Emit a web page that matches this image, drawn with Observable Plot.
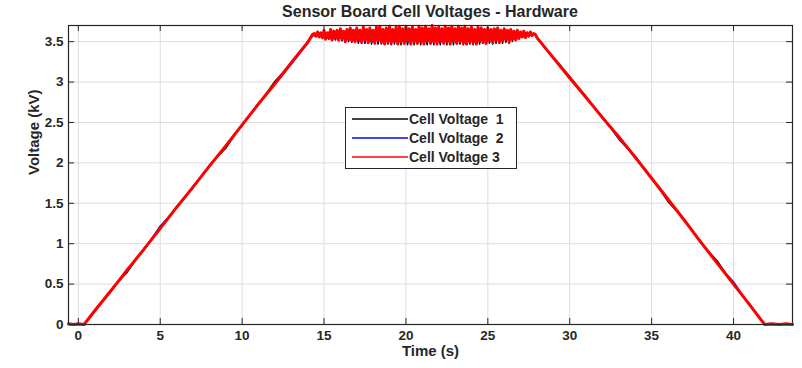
<!DOCTYPE html>
<html>
<head>
<meta charset="utf-8">
<script src="https://cdn.jsdelivr.net/npm/d3@7"></script>
<script src="https://cdn.jsdelivr.net/npm/@observablehq/plot@0.6"></script>
<style>
  html, body { margin: 0; padding: 0; background: #fff; }
  #wrap { position: relative; width: 802px; height: 368px; font-family: "Liberation Sans", Arial, sans-serif; color: #262626; }
  #title { position: absolute; left: 68px; top: 2px; width: 724px; line-height: 20px; text-align: center; font-size: 16px; font-weight: bold; color: #262626; }
  #legend { position: absolute; left: 345px; top: 107px; }
</style>
</head>
<body>
<div id="wrap">
  <div id="chart"></div>
  <div id="title"></div>
  <div id="legend"></div>
</div>
<script>
const titleText = "Sensor Board Cell Voltages - Hardware";
const xLabel = "Time (s)";
const yLabel = "Voltage (kV)";
const seriesNames = ["Cell Voltage  1", "Cell Voltage  2", "Cell Voltage 3"];
const seriesColors = ["#000000", "#0000ff", "#ff0000"];
const xTicks = [0, 5, 10, 15, 20, 25, 30, 35, 40];
const yTicks = [0, 0.5, 1, 1.5, 2, 2.5, 3, 3.5];

// time stamps (s)
const time = [
  -0.6, -0.3, 0, 0.35,
  1, 2, 3, 4, 5, 6, 7, 8, 9, 10, 11, 12, 13, 14, 14.3,
  14.4, 14.5, 14.6, 14.7, 14.8,
  14.9, 15.0, 15.1, 15.2, 15.3, 15.4, 15.5, 15.6, 15.7, 15.8,
  15.9, 16.0, 16.1, 16.2, 16.3, 16.4, 16.5, 16.6, 16.7, 16.8,
  16.9, 17.0, 17.1, 17.2, 17.3, 17.4, 17.5, 17.6, 17.7, 17.8,
  17.9, 18.0, 18.1, 18.2, 18.3, 18.4, 18.5, 18.6, 18.7, 18.8,
  18.9, 19.0, 19.1, 19.2, 19.3, 19.4, 19.5, 19.6, 19.7, 19.8,
  19.9, 20.0, 20.1, 20.2, 20.3, 20.4, 20.5, 20.6, 20.7, 20.8,
  20.9, 21.0, 21.1, 21.2, 21.3, 21.4, 21.5, 21.6, 21.7, 21.8,
  21.9, 22.0, 22.1, 22.2, 22.3, 22.4, 22.5, 22.6, 22.7, 22.8,
  22.9, 23.0, 23.1, 23.2, 23.3, 23.4, 23.5, 23.6, 23.7, 23.8,
  23.9, 24.0, 24.1, 24.2, 24.3, 24.4, 24.5, 24.6, 24.7, 24.8,
  24.9, 25.0, 25.1, 25.2, 25.3, 25.4, 25.5, 25.6, 25.7, 25.8,
  25.9, 26.0, 26.1, 26.2, 26.3, 26.4, 26.5, 26.6, 26.7, 26.8,
  26.9, 27.0, 27.1, 27.2, 27.3, 27.4, 27.5, 27.6, 27.7, 27.8,
  27.9,
  28, 29, 30, 31, 32, 33, 34, 35, 36, 37, 38, 39, 40, 41, 41.9,
  42.3, 42.8, 43.2, 43.6
];

// Cell Voltage 1 (kV)
const cell1 = [
  0, 0, 0, 0,
  0.16, 0.43, 0.65, 0.94, 1.18, 1.46, 1.69, 1.97, 2.18, 2.48, 2.72, 3.01, 3.23, 3.50, 3.57,
  3.58, 3.56, 3.59, 3.55, 3.58,
  3.54, 3.59, 3.53, 3.58, 3.53, 3.59, 3.52, 3.58, 3.52, 3.59,
  3.51, 3.59, 3.51, 3.58, 3.50, 3.60, 3.50, 3.59, 3.49, 3.60,
  3.49, 3.60, 3.48, 3.59, 3.49, 3.61, 3.48, 3.60, 3.48, 3.61,
  3.47, 3.60, 3.48, 3.61, 3.47, 3.60, 3.47, 3.61, 3.48, 3.60,
  3.47, 3.61, 3.46, 3.60, 3.47, 3.61, 3.47, 3.60, 3.46, 3.61,
  3.47, 3.60, 3.46, 3.61, 3.47, 3.60, 3.46, 3.61, 3.47, 3.60,
  3.46, 3.61, 3.47, 3.60, 3.46, 3.61, 3.47, 3.60, 3.46, 3.61,
  3.47, 3.60, 3.46, 3.61, 3.47, 3.60, 3.46, 3.61, 3.47, 3.60,
  3.46, 3.61, 3.47, 3.60, 3.47, 3.61, 3.46, 3.60, 3.47, 3.61,
  3.47, 3.60, 3.46, 3.61, 3.47, 3.60, 3.47, 3.61, 3.48, 3.60,
  3.47, 3.61, 3.48, 3.60, 3.47, 3.60, 3.48, 3.61, 3.48, 3.60,
  3.48, 3.60, 3.49, 3.59, 3.48, 3.60, 3.50, 3.59, 3.52, 3.59,
  3.54, 3.59, 3.55, 3.59, 3.56, 3.59, 3.56, 3.60, 3.57, 3.59,
  3.58,
  3.54, 3.31, 3.07, 2.82, 2.55, 2.33, 2.06, 1.82, 1.52, 1.30, 1.01, 0.79, 0.49, 0.25, 0.0,
  0, 0, 0, 0
];

// Cell Voltage 2 (kV)
const cell2 = [
  0, 0, 0, 0,
  0.17, 0.41, 0.69, 0.92, 1.22, 1.44, 1.71, 1.95, 2.22, 2.46, 2.74, 2.97, 3.22, 3.48, 3.58,
  3.59, 3.57, 3.60, 3.56, 3.59,
  3.55, 3.60, 3.54, 3.60, 3.54, 3.61, 3.53, 3.60, 3.53, 3.61,
  3.52, 3.61, 3.52, 3.60, 3.51, 3.62, 3.51, 3.61, 3.50, 3.62,
  3.50, 3.62, 3.50, 3.61, 3.50, 3.63, 3.49, 3.62, 3.49, 3.63,
  3.49, 3.62, 3.49, 3.63, 3.48, 3.62, 3.49, 3.63, 3.48, 3.62,
  3.48, 3.63, 3.48, 3.62, 3.49, 3.63, 3.48, 3.62, 3.48, 3.63,
  3.49, 3.62, 3.48, 3.63, 3.48, 3.62, 3.49, 3.63, 3.48, 3.62,
  3.48, 3.63, 3.49, 3.62, 3.48, 3.63, 3.48, 3.62, 3.49, 3.63,
  3.48, 3.62, 3.48, 3.63, 3.49, 3.62, 3.48, 3.63, 3.48, 3.62,
  3.49, 3.63, 3.48, 3.62, 3.48, 3.63, 3.49, 3.62, 3.48, 3.63,
  3.48, 3.62, 3.49, 3.63, 3.48, 3.62, 3.49, 3.63, 3.49, 3.62,
  3.49, 3.62, 3.49, 3.61, 3.50, 3.62, 3.50, 3.61, 3.50, 3.61,
  3.51, 3.61, 3.51, 3.60, 3.52, 3.61, 3.53, 3.60, 3.54, 3.60,
  3.55, 3.60, 3.56, 3.60, 3.56, 3.60, 3.57, 3.60, 3.57, 3.60,
  3.59,
  3.55, 3.29, 3.06, 2.80, 2.57, 2.29, 2.08, 1.80, 1.56, 1.28, 1.03, 0.75, 0.53, 0.23, 0.0,
  0, 0, 0, 0
];

// Cell Voltage 3 (kV)
const cell3 = [
  0.01, 0.0, 0.01, 0.0,
  0.17, 0.42, 0.68, 0.93, 1.19, 1.45, 1.70, 1.96, 2.21, 2.47, 2.73, 2.98, 3.24, 3.49, 3.59,
  3.60, 3.57, 3.62, 3.56, 3.61,
  3.55, 3.64, 3.53, 3.61, 3.54, 3.65, 3.52, 3.63, 3.55, 3.64,
  3.52, 3.66, 3.54, 3.63, 3.50, 3.65, 3.53, 3.67, 3.51, 3.64,
  3.50, 3.67, 3.53, 3.64, 3.49, 3.68, 3.52, 3.65, 3.49, 3.67,
  3.51, 3.64, 3.48, 3.68, 3.52, 3.69, 3.49, 3.65, 3.47, 3.67,
  3.50, 3.69, 3.48, 3.65, 3.51, 3.68, 3.47, 3.69, 3.50, 3.66,
  3.48, 3.69, 3.51, 3.66, 3.47, 3.68, 3.50, 3.65, 3.48, 3.69,
  3.50, 3.67, 3.47, 3.69, 3.51, 3.66, 3.48, 3.70, 3.50, 3.67,
  3.47, 3.68, 3.51, 3.66, 3.48, 3.69, 3.50, 3.67, 3.47, 3.69,
  3.51, 3.66, 3.48, 3.69, 3.50, 3.67, 3.48, 3.69, 3.47, 3.66,
  3.50, 3.68, 3.49, 3.65, 3.47, 3.68, 3.51, 3.67, 3.49, 3.65,
  3.48, 3.67, 3.51, 3.65, 3.49, 3.66, 3.52, 3.67, 3.49, 3.64,
  3.51, 3.66, 3.53, 3.64, 3.50, 3.65, 3.54, 3.63, 3.52, 3.64,
  3.54, 3.62, 3.56, 3.63, 3.55, 3.61, 3.57, 3.62, 3.58, 3.60,
  3.59,
  3.55, 3.30, 3.05, 2.81, 2.56, 2.32, 2.07, 1.81, 1.55, 1.29, 1.02, 0.76, 0.50, 0.24, 0.0,
  0.01, 0.0, 0.01, 0.0
];

const W = 802, H = 368, mL = 68, mR = 10, mT = 25, mB = 44;
const fw = W - mL - mR, fh = H - mT - mB;
const allSeries = [cell1, cell2, cell3];
const widths = [1.4, 1.4, 3];
const tickLen = 6;
const ink = "#262626";

const lineMarks = allSeries.map((vals, i) =>
  Plot.line(time.map((t, j) => ({t, v: vals[j]})), {
    x: "t", y: "v", stroke: seriesColors[i], strokeWidth: widths[i]
  })
);

const chart = Plot.plot({
  width: W, height: H,
  marginLeft: mL, marginRight: mR, marginTop: mT, marginBottom: mB,
  style: { fontFamily: '"Liberation Sans", Arial, sans-serif', fontWeight: "bold", fontSize: "13.5px", color: ink, background: "#fff" },
  x: { domain: [-0.6, 43.6] },
  y: { domain: [0, 3.7] },
  marks: [
    Plot.gridX(xTicks, { stroke: "#dcdcdc", strokeOpacity: 1, strokeWidth: 1 }),
    Plot.gridY(yTicks, { stroke: "#dcdcdc", strokeOpacity: 1, strokeWidth: 1 }),
    ...lineMarks,
    Plot.frame({ stroke: ink, strokeWidth: 1.2 }),
    Plot.ruleX(xTicks, { x: d => d, stroke: ink, insetTop: fh - tickLen }),
    Plot.ruleX(xTicks, { x: d => d, stroke: ink, insetBottom: fh - tickLen }),
    Plot.ruleY(yTicks, { y: d => d, stroke: ink, insetRight: fw - tickLen }),
    Plot.ruleY(yTicks, { y: d => d, stroke: ink, insetLeft: fw - tickLen }),
    Plot.axisX(xTicks, { tickSize: 0, tickPadding: 6, label: null, fill: ink, tickFormat: d => String(d) }),
    Plot.axisY(yTicks, { tickSize: 0, tickPadding: 5, label: null, fill: ink, tickFormat: d => String(d) }),
    Plot.text([xLabel], { text: d => d, frameAnchor: "bottom", dy: 31, fontSize: 15, fontWeight: "bold", fill: ink }),
    Plot.text([yLabel], { text: d => d, frameAnchor: "left", dx: -34, rotate: -90, fontSize: 15, fontWeight: "bold", fill: ink })
  ]
});
document.getElementById("chart").appendChild(chart);
document.getElementById("title").textContent = titleText;

// legend as a small SVG
const lw = 172, lh = 62, rowH = 19, row0 = 12;
const svg = d3.select("#legend").append("svg").attr("width", lw).attr("height", lh);
svg.append("rect").attr("x", 0.5).attr("y", 0.5).attr("width", lw - 1).attr("height", lh - 1)
  .attr("fill", "#fff").attr("stroke", ink).attr("stroke-width", 1);
const rows = svg.selectAll("g.row").data(seriesNames).join("g")
  .attr("transform", (d, i) => `translate(0,${row0 + i * rowH})`);
rows.append("line").attr("x1", 7).attr("x2", 63).attr("y1", 0).attr("y2", 0)
  .attr("stroke", (d, i) => seriesColors[i]).attr("stroke-width", 1.3);
rows.append("text").attr("x", 64).attr("y", 0).attr("dy", "0.36em")
  .attr("font-family", '"Liberation Sans", Arial, sans-serif').attr("font-weight", "bold")
  .attr("font-size", 14).attr("fill", ink).style("white-space", "pre").attr("xml:space", "preserve")
  .text(d => d);
</script>
</body>
</html>
